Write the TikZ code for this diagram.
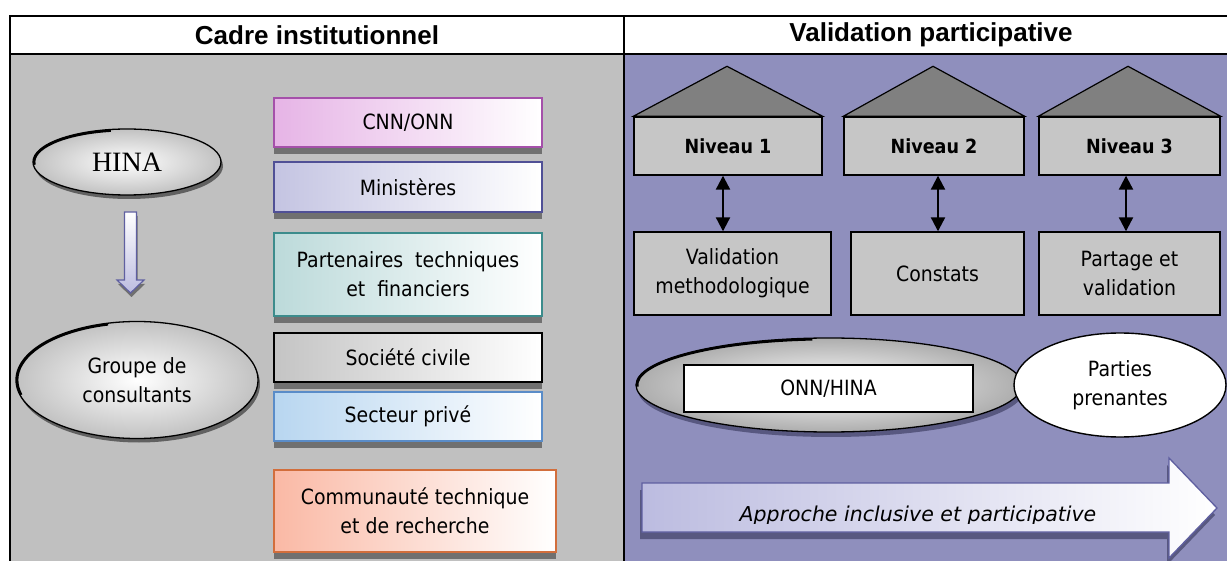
\documentclass[tikz,border=0pt]{standalone}
\usepackage{fontspec}
\setmainfont[FakeStretch=0.9]{DejaVu Sans}
\newfontfamily\widesans{DejaVu Sans}
\newfontfamily\titlefont{Liberation Sans}
\newfontfamily\hinafont{Liberation Serif}
\usetikzlibrary{shapes.geometric,shadows,arrows.meta,calc}

\definecolor{panelL}{RGB}{192,192,192}
\definecolor{panelR}{RGB}{143,143,189}
\definecolor{shadowL}{RGB}{112,112,112}
\definecolor{shadowR}{RGB}{88,88,128}
\definecolor{cnnL}{RGB}{230,180,230}
\definecolor{cnnB}{RGB}{165,80,170}
\definecolor{minL}{RGB}{196,196,226}
\definecolor{minB}{RGB}{80,80,150}
\definecolor{ptfL}{RGB}{188,218,218}
\definecolor{ptfB}{RGB}{60,140,140}
\definecolor{socL}{RGB}{196,196,196}
\definecolor{secL}{RGB}{184,214,240}
\definecolor{secB}{RGB}{90,140,200}
\definecolor{comL}{RGB}{250,185,165}
\definecolor{comB}{RGB}{210,110,60}
\definecolor{levelgray}{RGB}{198,198,198}
\definecolor{roofgray}{RGB}{128,128,128}
\definecolor{arrowB}{RGB}{95,95,160}
\definecolor{arrowL}{RGB}{188,188,224}

\newcommand\txtsize{\fontsize{21}{29}\selectfont}

\tikzset{
  frame/.style={line width=2.5pt, line cap=rect},
  heading/.style={font=\titlefont\bfseries\fontsize{26}{30}\selectfont},
  orgbox/.style 2 args={rectangle, draw=#2, line width=1.3pt,
    left color=#1, right color=white, minimum width=268pt,
    minimum height=49pt, inner sep=2pt, align=center, font=\txtsize,
    drop shadow={shadow xshift=0pt, shadow yshift=-7pt, fill=shadowL, opacity=1}},
  pod/.style={ellipse, draw=black, line width=1.3pt, inner color=white,
    outer color=black!24, align=center, inner sep=0pt, font=\txtsize,
    drop shadow={shadow xshift=2pt, shadow yshift=-4pt, fill=black!62, opacity=1}},
  podedge/.style={line width=2.4pt, line cap=butt},
  flowarrow/.style={draw=arrowB, line width=1.2pt, line join=miter,
    top color=white, bottom color=arrowL,
    drop shadow={shadow xshift=1pt, shadow yshift=-4pt, fill=shadowL, opacity=1}},
  bigarrow/.style={draw=arrowB, line width=1.3pt, line join=miter,
    left color=arrowL, right color=white,
    drop shadow={shadow xshift=-2pt, shadow yshift=-7pt, fill=shadowR, opacity=1}},
  roof/.style={draw=black, fill=roofgray, line width=1.2pt, line join=miter},
  level/.style={rectangle, draw=black, line width=1.4pt, fill=levelgray,
    minimum height=58pt, inner sep=0pt,
    font=\fontsize{19.5}{24}\selectfont\bfseries},
  stage/.style={rectangle, draw=black, line width=1.4pt, fill=levelgray,
    minimum height=83pt, inner sep=0pt, align=center, font=\txtsize},
  twoway/.style={line width=2.2pt,
    {Triangle[width=14pt,length=14pt]}-{Triangle[width=14pt,length=14pt]}}
}

\begin{document}
\begin{tikzpicture}[x=1pt,y=-1pt]
\useasboundingbox (0,0) rectangle (1227,561);

% panel backgrounds and table rules
\fill[panelL] (10,54) rectangle (624,561);
\fill[panelR] (624,54) rectangle (1227,561);
\draw[frame] (10,561) -- (10,16) -- (1227,16);
\draw[frame] (10,54) -- (1227,54);
\draw[frame] (624,16) -- (624,561);

\node[heading] (hL) at (317,35) {Cadre institutionnel};
\node[heading] (hR) at (931,35) {Validation participative};

% ---- left panel: institutional framework ----
\node[pod, minimum width=188pt, minimum height=66pt] (hina) at (127,162)
  {\hinafont\fontsize{28}{30}\selectfont HINA};
\draw[podedge] ($(hina.center)+(100:92.8pt and 31.8pt)$)
  arc[start angle=100, end angle=185, x radius=92.8pt, y radius=31.8pt];

\node[pod, minimum width=242pt, minimum height=117pt] (grp) at (137,380)
  {Groupe de\\consultants};
\draw[podedge] ($(grp.center)+(104:119.8pt and 57.3pt)$)
  arc[start angle=104, end angle=195, x radius=119.8pt, y radius=57.3pt];

% block arrow from HINA down to the consultants
\begin{scope}[shift={(130.5,212)}]
  \draw[flowarrow] (-6,0) -- (6,0) -- (6,68) -- (13.5,68) -- (0,81)
    -- (-13.5,68) -- (-6,68) -- cycle;
\end{scope}

\node[orgbox={cnnL}{cnnB}] (cnn) at (408,122.5) {CNN/ONN};
\node[orgbox={minL}{minB}, minimum height=50pt] (min) at (408,187) {Ministères};
\node[orgbox={ptfL}{ptfB}, minimum height=83pt] (ptf) at (408,274.5)
  {Partenaires\ \ techniques\\et\ \ financiers};
\node[orgbox={socL}{black}] (soc) at (408,357.5) {Société civile};
\node[orgbox={secL}{secB}] (sec) at (408,416.5) {Secteur privé};
\node[orgbox={comL}{comB}, minimum width=282pt, minimum height=82pt] (com)
  at (415,511) {Communauté technique\\et de recherche};

% ---- right panel: participative validation ----
\node[level, minimum width=188pt] (n1) at (728,146) {Niveau 1};
\node[level, minimum width=180pt] (n2) at (934,146) {Niveau 2};
\node[level, minimum width=181pt] (n3) at (1129.5,146) {Niveau 3};

\draw[roof] (n1.north west) -- ($(n1.north)+(-1,-50)$) -- (n1.north east) -- cycle;
\draw[roof] (n2.north west) -- ($(n2.north)+(-1,-50)$) -- (n2.north east) -- cycle;
\draw[roof] (n3.north west) -- ($(n3.north)+(-1.5,-50)$) -- (n3.north east) -- cycle;

\node[stage, minimum width=197pt] (v1) at (732.5,273.5) {Validation\\methodologique};
\node[stage, minimum width=173pt] (v2) at (937.5,273.5) {Constats};
\node[stage, minimum width=181pt] (v3) at (1129.5,273.5) {Partage et\\validation};

\draw[twoway] ([xshift=-5pt]n1.south) -- ([xshift=-5pt]n1.south |- v1.north);
\draw[twoway] ([xshift=4pt]n2.south) -- ([xshift=4pt]n2.south |- v2.north);
\draw[twoway] ([xshift=-3.5pt]n3.south) -- ([xshift=-3.5pt]n3.south |- v3.north);

\node[pod, minimum width=386pt, minimum height=94pt,
  outer color=black!32,
  drop shadow={shadow xshift=2pt, shadow yshift=-5pt, fill=shadowR, opacity=1}]
  (onnpod) at (829,385) {};
\draw[podedge] ($(onnpod.center)+(95:191.8pt and 45.8pt)$)
  arc[start angle=95, end angle=182, x radius=191.8pt, y radius=45.8pt];
\node[rectangle, draw=black, fill=white, line width=1.4pt, minimum width=289pt,
  minimum height=47pt, font=\txtsize] (onn) at (828.5,388.5) {ONN/HINA};

\node[ellipse, draw=black, fill=white, line width=1.4pt, minimum width=212pt,
  minimum height=104pt, inner sep=0pt, align=center, font=\txtsize]
  (pp) at (1120,385) {Parties\\prenantes};

% inclusive approach arrow; its caption is cut just below the baseline
\draw[bigarrow] (642,483) -- (1169,483) -- (1169,458) -- (1217,508)
  -- (1169,558) -- (1169,532) -- (642,532) -- cycle;
\begin{scope}
  \clip (645,486) rectangle (1165,523.5);
  \node[font=\widesans\fontsize{20.5}{24}\selectfont\itshape, anchor=base]
    (appr) at (918,521) {Approche inclusive et participative};
\end{scope}
\end{tikzpicture}
\end{document}
